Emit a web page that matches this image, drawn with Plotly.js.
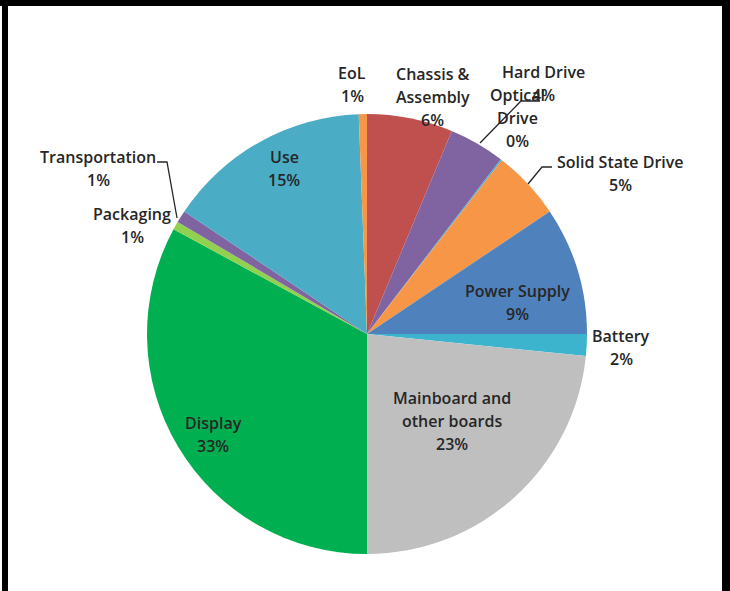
<!DOCTYPE html>
<html>
<head>
<meta charset="utf-8">
<script src="https://cdn.plot.ly/plotly-3.0.1.min.js"></script>
<style>
html,body{margin:0;padding:0;background:#fff;}
#chart{width:730px;height:591px;}
</style>
</head>
<body>
<div id="chart"></div>
<script>
// ---- data ----
var labels = ['Chassis & Assembly','Hard Drive','Optical Drive','Solid State Drive','Power Supply','Battery',
              'Mainboard and other boards','Display','Packaging','Transportation','Use','EoL'];
var values = [6.3, 4.1, 0.1, 5.1, 9.4, 1.6, 23.4, 32.9, 0.6, 0.9, 15.0, 0.6];
var shownPercent = ['6%','4%','0%','5%','9%','2%','23%','33%','1%','1%','15%','1%'];
var labelLines = [['Chassis &','Assembly'],['Hard Drive'],['Optical','Drive'],['Solid State Drive'],['Power Supply'],['Battery'],
                  ['Mainboard and','other boards'],['Display'],['Packaging'],['Transportation'],['Use'],['EoL']];

// ---- styling ----
var colors = ['#C0504D','#8064A2','#4BACC6','#F79646','#4F81BD','#3CB4CE',
              '#BFBFBF','#00B050','#92D050','#8064A2','#4BACC6','#F79646'];
var W = 730, H = 591;
function px(x){ return x / W; }
function py(y){ return 1 - y / H; }
// label anchor (center x, first-line y) in pixels, per slice
var labelPos = [[433,74],[543,72],[517,95],[620,162],[517,291],[621,336],
                [452,398],[213,423],[132,214],[98,157],[284,157],[352,73]];
var lineGap = 23;

var annotations = [];
labels.forEach(function(l, i){
  var lines = labelLines[i].concat([shownPercent[i]]);
  lines.forEach(function(t, k){
    annotations.push({
      xref:'paper', yref:'paper', x:px(labelPos[i][0]), y:py(labelPos[i][1] + k*lineGap),
      xanchor:'center', yanchor:'middle', showarrow:false, text:t,
      font:{family:'"Open Sans", Lato, sans-serif', size:16, color:'#262626', weight:600}
    });
  });
});

function pathFrom(pts){
  return pts.map(function(p, k){ return (k ? 'L' : 'M') + px(p[0]) + ',' + py(p[1]); }).join(' ');
}
var leaderStyle = {color:'#262626', width:1.3};
var shapes = [
  {type:'rect', xref:'paper', yref:'paper', x0:0, x1:1, y0:py(6), y1:1, fillcolor:'#000', line:{width:0}},
  {type:'rect', xref:'paper', yref:'paper', x0:px(2), x1:px(8), y0:0, y1:1, fillcolor:'#000', line:{width:0}},
  {type:'rect', xref:'paper', yref:'paper', x0:px(722), x1:1, y0:0, y1:1, fillcolor:'#000', line:{width:0}},
  {type:'path', xref:'paper', yref:'paper', path:pathFrom([[480,143],[521,101],[540,101]]), line:leaderStyle},
  {type:'path', xref:'paper', yref:'paper', path:pathFrom([[528,184],[542,167],[552,167]]), line:leaderStyle},
  {type:'path', xref:'paper', yref:'paper', path:pathFrom([[157,162],[167,162],[177,218]]), line:leaderStyle}
];

var trace = {
  type:'pie', labels:labels, values:values, sort:false, direction:'clockwise', rotation:0,
  marker:{colors:colors, line:{width:0}}, textinfo:'none', hoverinfo:'label+percent',
  domain:{x:[px(147), px(587)], y:[py(554), py(114)]}
};

Plotly.newPlot('chart', [trace], {
  width:W, height:H, margin:{l:0,r:0,t:0,b:0}, showlegend:false,
  paper_bgcolor:'#fff', annotations:annotations, shapes:shapes
}, {staticPlot:true});
</script>
</body>
</html>
